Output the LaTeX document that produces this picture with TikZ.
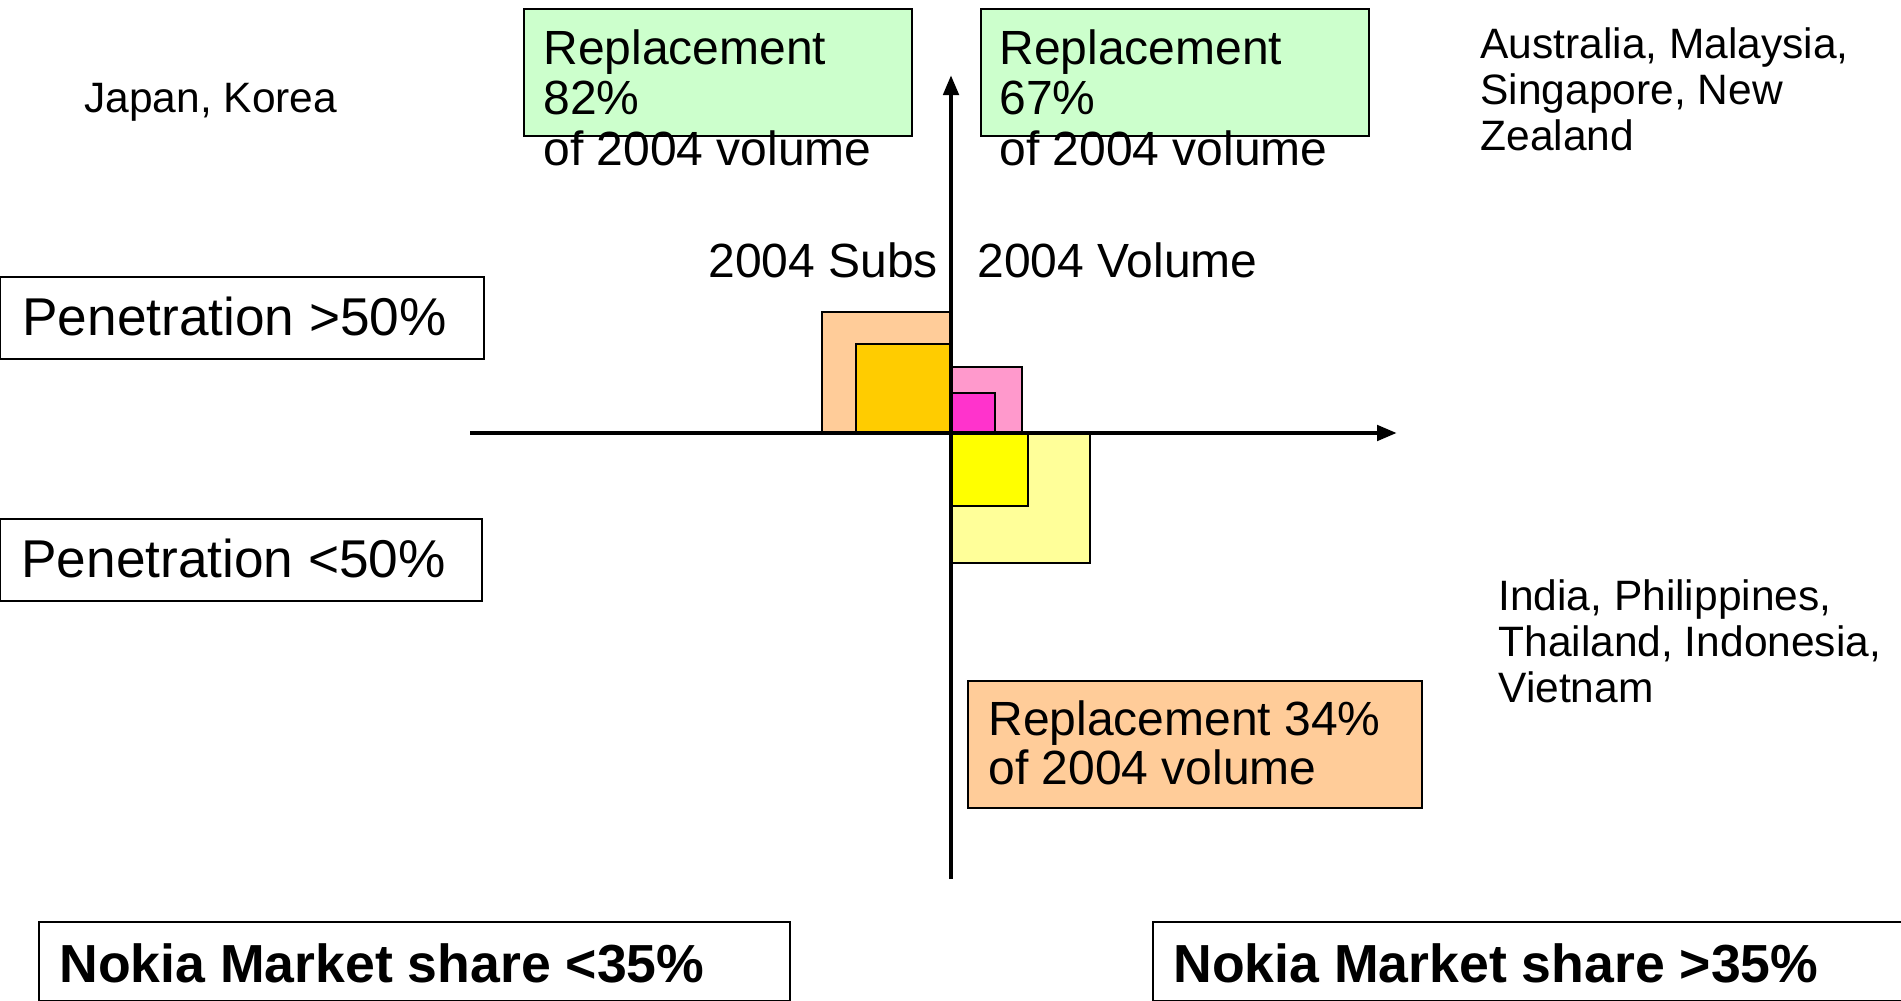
\documentclass[tikz,border=0pt]{standalone}
\usepackage{fontspec}
\setmainfont{Liberation Sans}
\usepackage{xcolor}
\usepackage{tikz}
\usetikzlibrary{arrows.meta, positioning}

\definecolor{mint}{HTML}{CCFFCC}
\definecolor{peach}{HTML}{FFCC99}
\definecolor{gold}{HTML}{FFCC00}
\definecolor{rose}{HTML}{FF99CC}
\definecolor{magent}{HTML}{FF33CC}
\definecolor{lemon}{HTML}{FFFF99}
\definecolor{yell}{HTML}{FFFF00}

\begin{document}
\begin{tikzpicture}[
            x=0.5pt, y=-0.5pt,                 % one unit per pixel, y going down
            >={Triangle[length=10pt,width=7.5pt]}, % arrow tip style
            axis/.style={->, line width=2.3pt},
            box/.style={draw, line width=1.1pt, anchor=north west, inner sep=0pt},
            sq/.style={draw, line width=0.7pt},
            big/.style={inner sep=0pt, align=left, font=\fontsize{24}{25.25}\selectfont},
            land/.style={inner sep=0pt, align=left, font=\fontsize{21.25}{23}\selectfont},
            pen/.style={inner sep=0pt, anchor=base west, font=\fontsize{26.6}{30}\selectfont},
            nok/.style={inner sep=0pt, anchor=base west, font=\fontsize{26.8}{30}\selectfont\bfseries}
          ]
          \useasboundingbox[fill=white] (0,0) rectangle (1901,1001);

          % boxes
          \node (rep82) [box, fill=mint, minimum width=194pt, minimum height=63.5pt] at (523,8) {};
          \node (rep67) [box, fill=mint, minimum width=194pt, minimum height=63.5pt] at (980,8) {};
          \node (rep34) [box, fill=peach, minimum width=227pt, minimum height=63.5pt] at (967,680) {};
          \node (pen1) [box, minimum width=242pt, minimum height=41pt] at (-1,276) {};
          \node (pen2) [box, minimum width=241pt, minimum height=41pt] at (-1,518) {};
          \node (nok1) [box, minimum width=375.5pt, minimum height=39.5pt] at (38,921) {};
          \node (nok2) [box, minimum width=379pt, minimum height=39.5pt] at (1152,921) {};

          % squares
          \draw[sq, fill=peach] (822,312) rectangle (951,434);
          \draw[sq, fill=gold] (856,344) rectangle (951,434);
          \draw[sq, fill=rose] (951,367) rectangle (1022,434);
          \draw[sq, fill=magent] (951,393) rectangle (995,434);
          \draw[sq, fill=lemon] (951,434) rectangle (1090,563);
          \draw[sq, fill=yell] (951,434) rectangle (1028,506);

          % axes
          \coordinate (xl) at (470,433);
          \coordinate (xr) at (1397,433);
          \coordinate (yb) at (951,879);
          \coordinate (yt) at (951,75);
          \draw[axis] (xl) -- (xr);
          \draw[axis] (yb) -- (yt);

          % texts
          \node (t82) [big, anchor=north west] at (543,29) {Replacement\\82\%\\of 2004 volume};
          \node (t67) [big, anchor=north west] at (999,29) {Replacement\\67\%\\of 2004 volume};
          \node (t34) [big, anchor=north west, font=\fontsize{24}{24.5}\selectfont] at (988,700) {Replacement 34\%\\of 2004 volume};
          \node (subs) [big, anchor=base west] at (708,277) {2004 Subs};
          \node (vol) [big, anchor=base west] at (977,277) {2004 Volume};
          \node (jk) [land, anchor=base west] at (84,112) {Japan, Korea};
          \node (aus) [land, anchor=north west] at (1480,27) {Australia, Malaysia,\\Singapore, New\\Zealand};
          \node (ind) [land, anchor=north west] at (1498,579) {India, Philippines,\\Thailand, Indonesia,\\Vietnam};
          \node (p50) [pen] at (22,335) {Penetration >50\%};
          \node (p50b) [pen] at (21,577) {Penetration <50\%};
          \node (n35) [nok] at (59,982) {Nokia Market share <35\%};
          \node (n35b) [nok] at (1173,982) {Nokia Market share >35\%};
        \end{tikzpicture}
\end{document}
